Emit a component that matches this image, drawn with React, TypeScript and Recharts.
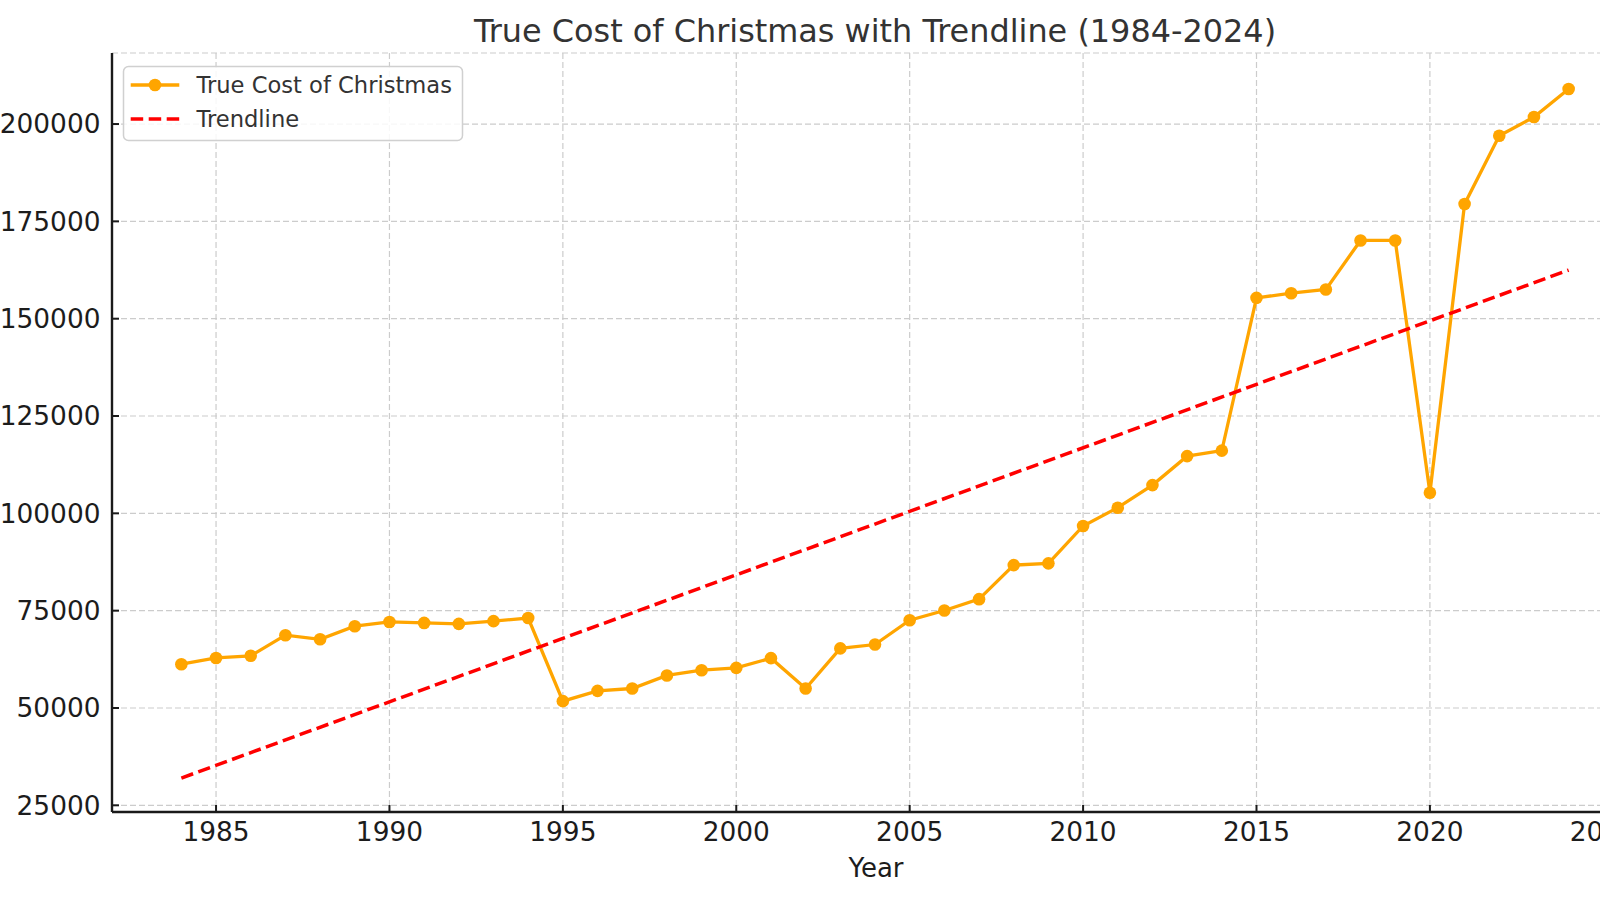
import React from 'react';
import { LineChart, Line, XAxis, YAxis, CartesianGrid } from 'recharts';

const years = [
  1984, 1985, 1986, 1987, 1988, 1989, 1990, 1991, 1992, 1993, 1994,
  1995, 1996, 1997, 1998, 1999, 2000, 2001, 2002, 2003, 2004,
  2005, 2006, 2007, 2008, 2009, 2010, 2011, 2012, 2013, 2014,
  2015, 2016, 2017, 2018, 2019, 2020, 2021, 2022, 2023, 2024,
];
const trueCost = [
  61250, 62850, 63400, 68700, 67650, 71000, 72100, 71850, 71600, 72300, 73100,
  51750, 54400, 55000, 58350, 59700, 60300, 62800, 55000, 65300, 66300,
  72550, 75050, 77950, 86700, 87150, 96750, 101450, 107250, 114700, 116100,
  155350, 156550, 157500, 170100, 170100, 105300, 179450, 197000, 201800, 209000,
];
const trendYears = [1984, 2024];
const trendValues = [32000, 162500];

const xTicks = [1985, 1990, 1995, 2000, 2005, 2010, 2015, 2020, 2025];
const yTicks = [25000, 50000, 75000, 100000, 125000, 150000, 175000, 200000];
const xDomain = [1982, 2026];
const yDomain = [23280, 218250];

const titleText = 'True Cost of Christmas with Trendline (1984-2024)';
const xLabelText = 'Year';
const seriesName = 'True Cost of Christmas';
const trendName = 'Trendline';

const FONT = '"DejaVu Sans", sans-serif';
const ORANGE = '#FFA500';
const RED = '#FF0000';
const TICK_COLOR = '#1c1c1c';

const costData = years.map((year, i) => ({ year, cost: trueCost[i] }));
const trendData = trendYears.map((year, i) => ({ year, trend: trendValues[i] }));

export default function App() {
  return (
    <div
      style={{
        position: 'fixed',
        left: 0,
        top: 0,
        width: 1600,
        height: 900,
        overflow: 'hidden',
        background: '#ffffff',
      }}
    >
      <div style={{ position: 'absolute', left: 0, top: 0 }}>
        <LineChart
          width={1700}
          height={900}
          data={costData}
          margin={{ top: 53, right: 62, bottom: 28, left: 0 }}
        >
          <CartesianGrid
            stroke="#cccccc"
            strokeDasharray="6 3"
            strokeWidth={1.2}
          />
          <XAxis
            dataKey="year"
            type="number"
            domain={xDomain}
            ticks={xTicks}
            interval={0}
            height={60}
            allowDataOverflow
            tickSize={-7}
            tickMargin={17}
            axisLine={{ stroke: '#1a1a1a', strokeWidth: 2.4 }}
            tickLine={{ stroke: '#1a1a1a', strokeWidth: 2 }}
            tick={{ fontSize: 26.4, fill: TICK_COLOR, fontFamily: FONT }}
          />
          <YAxis
            type="number"
            domain={yDomain}
            ticks={yTicks}
            interval={0}
            width={112}
            allowDataOverflow
            tickSize={-7}
            tickMargin={18.5}
            axisLine={{ stroke: '#1a1a1a', strokeWidth: 2.4 }}
            tickLine={{ stroke: '#1a1a1a', strokeWidth: 2 }}
            tick={{ fontSize: 26.4, fill: TICK_COLOR, fontFamily: FONT }}
          />
          <Line
            type="linear"
            dataKey="cost"
            name={seriesName}
            stroke={ORANGE}
            strokeWidth={3.3}
            dot={{ r: 6.3, fill: ORANGE, stroke: 'none' }}
            activeDot={false}
            isAnimationActive={false}
          />
          <Line
            type="linear"
            data={trendData}
            dataKey="trend"
            name={trendName}
            stroke={RED}
            strokeWidth={3.5}
            strokeDasharray="12.5 5.5"
            dot={false}
            activeDot={false}
            isAnimationActive={false}
          />
        </LineChart>
      </div>
      <svg
        width={1600}
        height={900}
        style={{ position: 'absolute', left: 0, top: 0, pointerEvents: 'none' }}
      >
        <text
          x={875}
          y={41.5}
          textAnchor="middle"
          fontFamily={FONT}
          fontSize={31.9}
          fill="#333333"
        >
          {titleText}
        </text>
        <text
          x={876}
          y={877}
          textAnchor="middle"
          fontFamily={FONT}
          fontSize={26}
          fill={TICK_COLOR}
        >
          {xLabelText}
        </text>
        <rect
          x={123.5}
          y={66.5}
          width={339}
          height={74}
          rx={5}
          ry={5}
          fill="rgba(255,255,255,0.85)"
          stroke="#d0d0d0"
          strokeWidth={1.5}
        />
        <line x1={130.7} x2={179.3} y1={85} y2={85} stroke={ORANGE} strokeWidth={3.3} />
        <circle cx={155} cy={85} r={6.3} fill={ORANGE} />
        <line
          x1={130.7}
          x2={179.3}
          y1={119}
          y2={119}
          stroke={RED}
          strokeWidth={3.5}
          strokeDasharray="12.5 5.5"
        />
        <text x={196.5} y={93} fontFamily={FONT} fontSize={22.6} fill="#333333">
          {seriesName}
        </text>
        <text x={196.5} y={127} fontFamily={FONT} fontSize={22.6} fill="#333333">
          {trendName}
        </text>
      </svg>
    </div>
  );
}
